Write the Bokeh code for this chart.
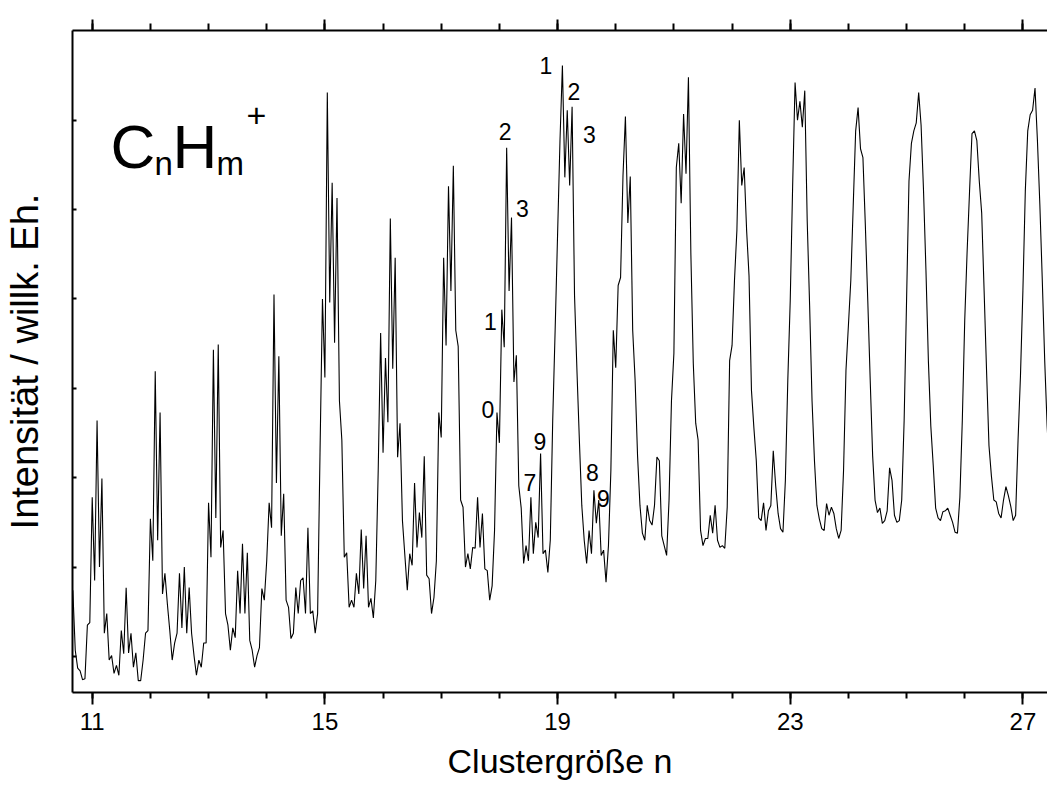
from bokeh.plotting import figure
from bokeh.models import (Range1d, LinearAxis, FixedTicker, Label, ColumnDataSource,
                          CustomLabelingPolicy)
from bokeh.core.properties import value
from bokeh.embed import file_html
from bokeh.resources import INLINE

FONT = "Liberation Sans"

# Spectrum intensity (arbitrary units), one value every half mass unit
# (x = n + m/12, m = number of H atoms, step 0.5); cluster 10 starts at m = 8
first_m = {10: 8.0}
c10 = [174, 107, 87, 84, 74, 75, 135, 138]
c11 = [278, 185, 364, 200, 299, 126, 148, 96, 101, 81, 90, 79, 129, 103, 177, 104, 126, 88, 104, 73, 73, 96, 126, 129]
c12 = [254, 207, 419, 230, 373, 170, 193, 159, 129, 96, 115, 126, 193, 132, 200, 126, 177, 126, 101, 79, 96, 88, 115, 115]
c13 = [272, 211, 443, 255, 449, 222, 241, 148, 135, 107, 132, 121, 196, 148, 226, 148, 216, 118, 107, 88, 101, 110, 176, 163]
c14 = [207, 272, 244, 505, 294, 436, 235, 282, 163, 155, 120, 126, 177, 148, 185, 188, 148, 244, 148, 151, 126, 148, 330, 500]
c15 = [412, 731, 496, 630, 451, 613, 386, 342, 211, 216, 155, 163, 155, 193, 170, 242, 176, 235, 155, 165, 143, 185, 308, 462]
c16 = [328, 434, 362, 590, 422, 546, 323, 361, 252, 213, 174, 215, 202, 294, 222, 261, 233, 324, 191, 187, 148, 166, 207, 373]
c17 = [345, 546, 448, 626, 509, 649, 465, 447, 275, 267, 200, 215, 198, 222, 221, 278, 222, 260, 198, 196, 163, 179, 241, 373]
c18 = [339, 488, 446, 669, 509, 591, 407, 437, 291, 266, 204, 224, 207, 278, 215, 250, 233, 327, 215, 219, 194, 230, 364, 465]
c19 = [571, 677, 761, 636, 711, 627, 715, 504, 420, 342, 269, 230, 204, 241, 215, 286, 249, 275, 213, 219, 183, 224, 308, 465]
c20 = [423, 515, 524, 638, 704, 585, 637, 465, 409, 325, 269, 238, 230, 269, 252, 247, 269, 323, 319, 235, 224, 213, 275, 386]
c21 = [439, 647, 674, 607, 707, 640, 748, 551, 428, 361, 342, 241, 224, 232, 232, 258, 238, 269, 230, 222, 224, 221, 267, 431]
c22 = [448, 521, 577, 700, 627, 647, 577, 526, 398, 356, 319, 255, 252, 272, 241, 263, 269, 330, 291, 260, 243, 239, 297, 409]
c23 = [498, 627, 742, 700, 721, 692, 733, 588, 493, 386, 319, 269, 254, 243, 241, 271, 258, 267, 260, 243, 232, 241, 308, 420]
c24 = [470, 521, 605, 688, 714, 668, 658, 582, 498, 409, 325, 275, 261, 266, 249, 252, 263, 311, 297, 258, 250, 252, 275, 364]
c25 = [498, 632, 674, 688, 697, 731, 694, 621, 532, 431, 358, 314, 266, 255, 252, 262, 263, 266, 258, 250, 239, 238, 278, 364]
c26 = [476, 554, 621, 685, 688, 677, 632, 596, 509, 420, 336, 302, 275, 273, 260, 255, 275, 290, 280, 268, 252, 258, 342, 414]
c27 = [509, 621, 688, 706, 711, 736, 677, 605, 521, 431, 358, 308]

groups = {10: c10, 11: c11, 12: c12, 13: c13, 14: c14, 15: c15, 16: c16, 17: c17,
          18: c18, 19: c19, 20: c20, 21: c21, 22: c22, 23: c23, 24: c24, 25: c25,
          26: c26, 27: c27}

# peak annotations (H count m)
peak_text = ["1", "2", "3", "2", "3", "1", "0", "9", "7", "8", "9"]
peak_n = [18.801, 19.283, 19.549, 18.097, 18.397, 17.847, 17.804, 18.698, 18.526, 19.601, 19.790]
peak_i = [761, 732, 684, 687, 601, 475, 376, 341, 295, 306, 277]

x_ticks = [11, 15, 19, 23, 27]
x_minor = list(range(11, 28))
y_ticks = [100, 200, 300, 400, 500, 600, 700]

xs, ys = [], []
for n, vals in groups.items():
    m0 = first_m.get(n, 0.0)
    for i, v in enumerate(vals):
        xs.append(n + (m0 + 0.5 * i) / 12.0)
        ys.append(v)

p = figure(width=1047, height=787, output_backend="svg", toolbar_location=None,
           x_range=Range1d(10.661, 27.423), y_range=Range1d(59.7, 800.3),
           x_axis_location=None, y_axis_location=None,
           min_border_left=72, min_border_right=0, min_border_top=30, min_border_bottom=95)
p.outline_line_color = None
p.background_fill_color = "white"
p.border_fill_color = "white"
for g in p.grid:
    g.visible = False

no_labels = "for (const i of indices) { indices.unset(i) }\nreturn indices"

bottom = LinearAxis(ticker=FixedTicker(ticks=x_ticks, minor_ticks=x_minor),
                    axis_label="Clustergröße n",
                    axis_label_text_font=FONT, axis_label_text_font_size="34px",
                    axis_label_text_font_style="normal", axis_label_text_color="black",
                    axis_label_standoff=9, major_label_standoff=8,
                    major_label_text_font=FONT, major_label_text_font_size="24px",
                    major_label_text_color="black",
                    major_tick_out=12, major_tick_in=0, minor_tick_out=6, minor_tick_in=0,
                    axis_line_width=2, major_tick_line_width=2, minor_tick_line_width=2,
                    axis_line_color="black", major_tick_line_color="black",
                    minor_tick_line_color="black")
p.add_layout(bottom, "below")

top = LinearAxis(ticker=FixedTicker(ticks=x_ticks, minor_ticks=x_minor),
                 major_label_policy=CustomLabelingPolicy(code=no_labels),
                 major_label_text_font_size="1px", major_label_standoff=0,
                 major_tick_out=11, major_tick_in=0, minor_tick_out=7, minor_tick_in=0,
                 axis_line_width=2, major_tick_line_width=2, minor_tick_line_width=2,
                 axis_line_color="black", major_tick_line_color="black",
                 minor_tick_line_color="black")
p.add_layout(top, "above")

left = LinearAxis(ticker=FixedTicker(ticks=y_ticks, minor_ticks=[]),
                  axis_label="Intensität / willk. Eh.",
                  axis_label_text_font=FONT, axis_label_text_font_size="38px",
                  axis_label_text_font_style="normal", axis_label_text_color="black",
                  axis_label_standoff=22,
                  major_label_policy=CustomLabelingPolicy(code=no_labels),
                  major_label_text_font_size="1px", major_label_standoff=0,
                  major_tick_out=0, major_tick_in=4, minor_tick_out=0, minor_tick_in=0,
                  axis_line_width=2, major_tick_line_width=2,
                  axis_line_color="black", major_tick_line_color="black")
p.add_layout(left, "left")

p.line(xs, ys, line_color="black", line_width=1.1)

src = ColumnDataSource(dict(x=peak_n, y=peak_i, t=peak_text))
p.text(x="x", y="y", text="t", source=src, text_font=value(FONT), text_font_size="23px",
       text_align="center", text_baseline="alphabetic", text_color="black")

# formula label C_nH_m^+
for txt, xx, yy, fs in [("C", 11.315, 670.5, "62px"), ("n", 12.071, 651.5, "33px"),
                        ("H", 12.380, 670.5, "62px"), ("m", 13.137, 651.5, "33px"),
                        ("+", 13.653, 705.2, "34px")]:
    p.add_layout(Label(x=xx, y=yy, text=txt, text_font=FONT, text_font_size=fs,
                       text_baseline="alphabetic", text_align="left", text_color="black"))

open("out.html", "w").write(file_html(p, INLINE))
